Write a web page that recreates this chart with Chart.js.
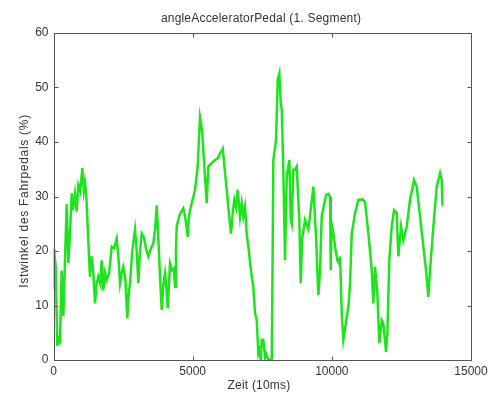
<!DOCTYPE html>
<html>
<head>
<meta charset="utf-8">
<script src="https://cdn.jsdelivr.net/npm/chart.js@4/dist/chart.umd.min.js"></script>
<style>
  html, body { margin: 0; padding: 0; background: #fff; }
  #wrap { width: 493px; height: 394px; }
</style>
</head>
<body>
<div id="wrap"><canvas id="c" width="493" height="394"></canvas></div>
<script>
// angleAcceleratorPedal
const zeit = [0, 20, 80, 137, 180, 233, 294, 353, 413, 474, 533, 600, 653, 700, 772, 830, 892, 960, 1036, 1090, 1132, 1180, 1250, 1311, 1371, 1430, 1491, 1550, 1610, 1680, 1731, 1789, 1850, 1911, 2000, 2091, 2180, 2271, 2330, 2390, 2450, 2508, 2580, 2652, 2700, 2749, 2830, 2928, 2990, 3047, 3110, 3169, 3250, 3320, 3406, 3500, 3586, 3650, 3708, 3760, 3830, 3888, 3950, 4007, 4060, 4103, 4150, 4186, 4260, 4320, 4366, 4400, 4427, 4520, 4600, 4664, 4740, 4822, 4860, 4905, 5000, 5084, 5181, 5230, 5264, 5300, 5347, 5400, 5444, 5505, 5562, 5650, 5803, 5900, 5983, 6080, 6150, 6224, 6300, 6378, 6440, 6497, 6560, 6619, 6701, 6762, 6820, 6881, 6942, 7000, 7060, 7122, 7179, 7240, 7301, 7359, 7395, 7445, 7481, 7539, 7600, 7636, 7718, 7840, 7862, 7898, 7995, 8056, 8114, 8164, 8200, 8257, 8318, 8379, 8473, 8524, 8559, 8616, 8678, 8739, 8790, 8832, 8882, 8930, 9037, 9096, 9157, 9253, 9336, 9432, 9516, 9580, 9636, 9700, 9792, 9880, 9935, 9960, 9990, 10055, 10115, 10198, 10260, 10295, 10356, 10413, 10438, 10535, 10600, 10654, 10715, 10833, 10953, 11013, 11100, 11193, 11312, 11434, 11491, 11552, 11635, 11707, 11793, 11850, 11900, 11947, 11994, 12066, 12152, 12235, 12330, 12390, 12487, 12569, 12691, 12810, 12954, 13050, 13169, 13288, 13385, 13468, 13528, 13648, 13768, 13888, 13948, 13971];
const istwinkel = [13, 20.4, 17, 2.6, 4, 3.5, 16.4, 8.1, 18.2, 28.6, 17.8, 24, 30.6, 27.5, 30.5, 27.2, 32.1, 31, 35.2, 31, 32.5, 30, 22, 15.3, 19, 16, 10.4, 14, 15.3, 14, 18.3, 12.8, 16, 14.7, 16, 20.8, 20.5, 22.3, 19, 14.1, 16, 17.1, 15, 7.7, 12, 14.1, 20, 23.9, 20, 14.1, 20, 23.2, 22.5, 20.5, 19, 20.5, 21.4, 24, 28.4, 23, 15, 9.2, 14, 15.9, 13, 9.5, 14, 17.7, 16.5, 16.8, 13.4, 20, 24.5, 26.5, 27.3, 27.8, 26, 22.6, 26, 27.5, 29.5, 31.2, 35.5, 41, 44.6, 43.5, 41.6, 37, 33.6, 28.8, 35.5, 36, 36.7, 37, 37.9, 38.8, 35, 31.2, 27, 23.2, 27, 29.4, 28, 31.2, 26.3, 28.8, 26.3, 28.1, 23.2, 20.8, 18, 15.3, 13.4, 8.6, 7.3, 1.2, 1.8, 0, 3.7, 3.7, 0.5, 1.2, 0, 0, 12.2, 36.7, 40.4, 51.4, 52.6, 47.1, 46, 34.9, 18.3, 33.6, 36.7, 25.7, 25, 34.9, 34.9, 35.5, 30, 25.7, 14.1, 22, 25.7, 24.8, 24, 28.1, 31.8, 22.6, 11.9, 17, 26.3, 28, 30.3, 30.5, 30, 16.5, 25, 23.2, 20.8, 18.3, 17.7, 19, 8.6, 3.7, 4.5, 7.9, 10, 14, 23.2, 26.9, 29.4, 29.4, 29.5, 29, 23.2, 16.5, 10.4, 17.1, 12.2, 3.1, 7.3, 6.7, 4, 1.5, 4.9, 18.3, 24.5, 27.5, 27, 19, 24.5, 22, 24.5, 29.4, 33, 31.8, 26.3, 20.8, 16.5, 11.6, 16.5, 24.5, 31.8, 34.3, 33, 28.3];
const xTicks = [0, 5000, 10000, 15000];
const yTicks = [0, 10, 20, 30, 40, 50, 60];
const titleText = 'angleAcceleratorPedal (1. Segment)';
const xLabel = 'Zeit (10ms)';
const yLabel = 'Istwinkel des Fahrpedals (%)';

const points = zeit.map((t, i) => ({ x: t, y: istwinkel[i] }));

// box around the plot with inward ticks on all four sides
const frame = {
  id: 'frame',
  afterDatasetsDraw(chart) {
    const { ctx, chartArea: a, scales: { x, y } } = chart;
    const L = Math.round(a.left) + 0.5, R = Math.round(a.right) + 0.5;
    const T = Math.round(a.top) + 0.5, B = Math.round(a.bottom) + 0.5;
    ctx.save();
    ctx.strokeStyle = '#555';
    ctx.lineWidth = 1;
    ctx.strokeRect(L, T, R - L, B - T);
    ctx.beginPath();
    xTicks.forEach((v) => {
      const px = Math.round(x.getPixelForValue(v)) + 0.5;
      ctx.moveTo(px, B); ctx.lineTo(px, B - 4);
      ctx.moveTo(px, T); ctx.lineTo(px, T + 4);
    });
    yTicks.forEach((v) => {
      const py = Math.round(y.getPixelForValue(v)) + 0.5;
      ctx.moveTo(L, py); ctx.lineTo(L + 4, py);
      ctx.moveTo(R, py); ctx.lineTo(R - 4, py);
    });
    ctx.stroke();
    ctx.restore();
  },
};

// title and axis labels, slightly letter-spaced like the original export
const labels = {
  id: 'labels',
  afterDraw(chart) {
    const { ctx } = chart;
    ctx.save();
    ctx.fillStyle = '#333';
    ctx.font = '12px "Liberation Sans", Arial, sans-serif';
    ctx.textAlign = 'center';
    ctx.textBaseline = 'middle';
    ctx.letterSpacing = '0.2px';
    ctx.fillText(titleText, 261, 19);
    ctx.fillText(xLabel, 259, 386);
    ctx.letterSpacing = '0.7px';
    ctx.translate(25, 201);
    ctx.rotate(-Math.PI / 2);
    ctx.fillText(yLabel, 0, 0);
    ctx.restore();
  },
};

const font = { family: '"Liberation Sans", Arial, sans-serif', size: 12 };

new Chart(document.getElementById('c').getContext('2d'), {
  type: 'line',
  data: {
    datasets: [{
      data: points,
      borderColor: 'rgb(30,228,30)',
      borderWidth: 2.5,
      pointRadius: 0,
      tension: 0,
      fill: false,
    }],
  },
  options: {
    responsive: false,
    animation: false,
    layout: { padding: { top: 33, right: 22, left: 0, bottom: 0 } },
    plugins: {
      legend: { display: false },
      tooltip: { enabled: false },
      title: { display: false },
    },
    scales: {
      x: {
        type: 'linear', min: 0, max: 15000,
        afterBuildTicks: (s) => { s.ticks = xTicks.map((v) => ({ value: v })); },
        afterFit: (s) => { s.height = 34; },
        grid: { display: false, drawTicks: false },
        border: { display: false },
        ticks: { color: '#333', font, padding: 4, maxRotation: 0, callback: (v) => String(v) },
      },
      y: {
        type: 'linear', min: 0, max: 60,
        afterBuildTicks: (s) => { s.ticks = yTicks.map((v) => ({ value: v })); },
        afterFit: (s) => { s.width = 53.5; },
        grid: { display: false, drawTicks: false },
        border: { display: false },
        ticks: { color: '#333', font, padding: 5, callback: (v) => String(v) },
      },
    },
  },
  plugins: [frame, labels],
});
</script>
</body>
</html>
